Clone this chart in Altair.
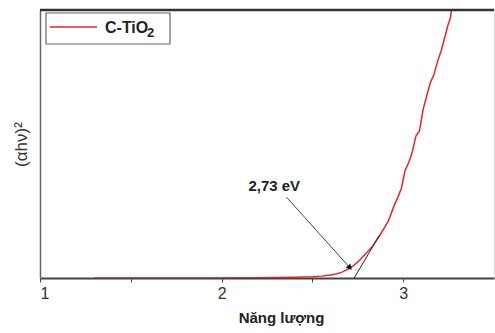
import altair as alt
import pandas as pd

energy = [1.30, 1.50, 1.70, 1.90, 2.00, 2.10, 2.20, 2.30, 2.40, 2.45, 2.50, 2.55,
          2.60, 2.63, 2.66, 2.70, 2.73, 2.76, 2.80, 2.83, 2.86, 2.89, 2.92, 2.95,
          2.97, 2.99, 3.01, 3.03, 3.05, 3.07, 3.09, 3.11, 3.13, 3.15, 3.17, 3.19,
          3.21, 3.23, 3.245, 3.26, 3.27]
absorb = [0.0, 0.0, 0.0, 0.0, 0.0, 0.001, 0.001, 0.002, 0.003, 0.004, 0.005, 0.007,
          0.011, 0.015, 0.021, 0.034, 0.048, 0.066, 0.095, 0.118, 0.148, 0.18, 0.215, 0.27,
          0.30, 0.335, 0.40, 0.43, 0.47, 0.53, 0.55, 0.63, 0.68, 0.73, 0.76, 0.81,
          0.85, 0.90, 0.94, 0.97, 1.02]
series_main = ["C-TiO"]
series_sub = ["2"]

tangent_x = [2.73, 2.87]
tangent_y = [0.0, 0.16]
arrow_x = [2.357, 2.703]
arrow_y = [0.302, 0.041]
label_x = [2.29]
label_y = [0.345]
label_text = ["2,73 eV"]

FONT = "Liberation Sans"
W, H = 454, 268
RED = "#e3262e"

df = pd.DataFrame({"E": energy, "A": absorb})
xs = alt.Scale(domain=[1, 3.5], nice=False, zero=False)
ys = alt.Scale(domain=[0, 1], nice=False)

line = alt.Chart(df).mark_line(strokeWidth=1.5, clip=True, color=RED).encode(
    x=alt.X("E:Q", scale=xs, title="Năng lượng",
            axis=alt.Axis(values=[1, 1.5, 2, 2.5, 3],
                          labelExpr="datum.value % 1 == 0 ? format(datum.value, 'd') : ''",
                          grid=False, tickSize=4, domainColor="#444", domainWidth=1.8,
                          tickColor="#444", labelColor="#333", labelFontSize=16, labelFont=FONT,
                          labelPadding=3, titleFont=FONT, titleFontSize=15, titleFontWeight="bold",
                          titleColor="#222", titlePadding=9, titleX=241)),
    y=alt.Y("A:Q", scale=ys, title="(αhν)²",
            axis=alt.Axis(labels=False, ticks=False, grid=False, domainColor="#666", domainWidth=1.5,
                          titleFont=FONT, titleFontSize=17, titleFontWeight="normal",
                          titleColor="#333", titlePadding=10)),
)

tdf = pd.DataFrame({"E": tangent_x, "A": tangent_y})
tangent = alt.Chart(tdf).mark_line(color="#222", strokeWidth=1).encode(
    x=alt.X("E:Q", scale=xs), y=alt.Y("A:Q", scale=ys))

adf = pd.DataFrame({"E": arrow_x, "A": arrow_y})
arrow = alt.Chart(adf).mark_line(color="#444", strokeWidth=1).encode(
    x=alt.X("E:Q", scale=xs), y=alt.Y("A:Q", scale=ys))

head = alt.Chart(pd.DataFrame({"E": arrow_x[1:], "A": arrow_y[1:]})).mark_point(
    shape="triangle", filled=True, color="#111", size=40, angle=138, opacity=1).encode(
    x=alt.X("E:Q", scale=xs), y=alt.Y("A:Q", scale=ys))

ldf = pd.DataFrame({"E": label_x, "A": label_y, "t": label_text})
label = alt.Chart(ldf).mark_text(font=FONT, fontSize=15, fontWeight="bold", color="#222").encode(
    x=alt.X("E:Q", scale=xs), y=alt.Y("A:Q", scale=ys), text="t:N")

top = alt.Chart(pd.DataFrame({"a": [0]})).mark_rule(color="#333", strokeWidth=2.5).encode(
    x=alt.value(0), x2=alt.value(W), y=alt.value(0))

# legend (drawn by hand)
one = pd.DataFrame({"a": [0]})
leg_box = alt.Chart(one).mark_rect(fill="white", stroke="#666", strokeWidth=1.2).encode(
    x=alt.value(6), x2=alt.value(130), y=alt.value(3), y2=alt.value(34))
leg_line = alt.Chart(one).mark_rule(color=RED, strokeWidth=1.5).encode(
    x=alt.value(10), x2=alt.value(57), y=alt.value(17))
leg_text = alt.Chart(pd.DataFrame({"t": series_main})).mark_text(
    font=FONT, fontSize=16, fontWeight="bold", color="#222", align="left", baseline="middle").encode(
    x=alt.value(65), y=alt.value(18), text="t:N")
leg_sub = alt.Chart(pd.DataFrame({"t": series_sub})).mark_text(
    font=FONT, fontSize=13, fontWeight="bold", color="#222", align="left", baseline="middle").encode(
    x=alt.value(107), y=alt.value(23), text="t:N")

chart = alt.layer(line, tangent, arrow, head, label, top, leg_box, leg_line, leg_text, leg_sub).properties(
    width=W, height=H,
    padding={"left": 40, "top": 10, "right": 1, "bottom": 55},
    autosize=alt.AutoSizeParams(type="none"),
).configure_view(stroke=None).configure(background="white")

chart.save("out.html", embed_options={"renderer": "svg", "actions": False})
